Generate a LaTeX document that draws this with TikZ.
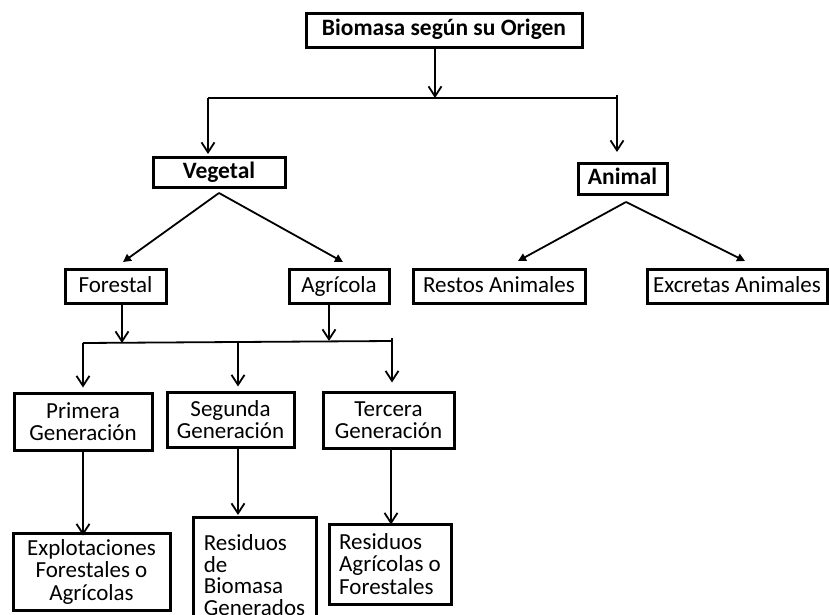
\documentclass[tikz,border=0pt]{standalone}
\usepackage{fontspec}
\setmainfont{Carlito}
\usetikzlibrary{arrows.meta}
\begin{document}
\begin{tikzpicture}[x=1pt,y=-1pt,
  box/.style={draw, line width=3pt, inner sep=0pt, align=center,
    font=\fontsize{23}{22.5}\selectfont},
  single/.style={box, text height=15.5pt, text depth=4.5pt},
  head/.style={single, font=\fontsize{23.5}{24}\selectfont\bfseries},
  leftbox/.style={box, align=left},
  link/.style={line width=1.8pt},
  down/.style={link, -{Straight Barb[length=10pt,width=13pt,line width=1.8pt]}},
  diag/.style={link, -{Triangle[length=8pt,width=8pt]}}]
\fill[white] (0,0) rectangle (829,615);
\useasboundingbox (0,0) rectangle (829,615);

% boxes
\node[head, minimum width=276pt, minimum height=34pt] (top) at (444,30.5) {Biomasa según su Origen};
\node[head, minimum width=132pt, minimum height=30pt] (veg) at (219,172.5) {Vegetal};
\node[head, minimum width=89pt, minimum height=31pt] (ani) at (622.5,179) {Animal};

\node[single, minimum width=101pt, minimum height=34pt] (for) at (115.5,286.5) {Forestal};
\node[single, minimum width=100pt, minimum height=34pt] (agr) at (339,286.5) {Agrícola};
\node[single, minimum width=172pt, minimum height=34pt] (res) at (499,286.5) {Restos Animales};
\node[single, minimum width=180pt, minimum height=34pt] (exc) at (737,286.5) {Excretas Animales};

\node[box, minimum width=138pt, minimum height=57pt] (pri) at (83,421.5) {Primera\\Generación};
\node[box, minimum width=127pt, minimum height=55pt] (seg) at (230.5,419.5) {Segunda\\Generación};
\node[box, minimum width=131pt, minimum height=56pt] (ter) at (388.5,420) {Tercera\\Generación};

\node[box, minimum width=157pt, minimum height=77pt] (exp) at (91.5,571.5) {Explotaciones\\Forestales o\\Agrícolas};
\node[leftbox, minimum width=123pt, minimum height=115pt,
      font=\fontsize{23}{21.5}\selectfont] (rbg) at (254.5,575) {Residuos\\de\\Biomasa\\Generados};
\node[leftbox, minimum width=122pt, minimum height=80pt] (rag) at (390,564) {Residuos\\Agrícolas o\\Forestales};

% junction points
\coordinate (j0) at (435,98);
\coordinate (jl) at (208,98);
\coordinate (jr) at (617,98);
\coordinate (b1) at (83,343);
\coordinate (b2) at (238,342);
\coordinate (b3) at (392,341);

% first level
\draw[down] (top.south -| j0) -- (j0);
\draw[link] (jl) -- (jr) -- ++(0,-3);
\draw[down] (jl) -- ([yshift=2pt]veg.north -| jl);
\draw[down] (jr) -- ([yshift=10pt]ani.north -| jr);

% vegetal and animal branches
\draw[diag] ([yshift=-4pt]veg.south) -- ([xshift=7.5pt,yshift=6pt]for.north);
\draw[diag] ([yshift=-4pt]veg.south) -- ([xshift=4pt,yshift=6pt]agr.north);
\draw[diag] ([xshift=3.5pt,yshift=-6pt]ani.south) -- ([xshift=19pt,yshift=7pt]res.north);
\draw[diag] ([xshift=3.5pt,yshift=-6pt]ani.south) -- ([xshift=8pt,yshift=7pt]exc.north);

% generations bus
\draw[down] ([xshift=6.5pt]for.south) -- ([xshift=6.5pt]for.south |- b1);
\draw[down] ([xshift=-10pt]agr.south) -- ([xshift=-10pt]agr.south |- b3);
\draw[link] (b1) -- (b3) -- ++(0,-3);
\draw[down] (b1) -- ([yshift=4pt]pri.north -| b1);
\draw[down] (b2) -- ([yshift=4pt]seg.north -| b2);
\draw[down] (b3) -- ([yshift=8pt]ter.north -| b3);

% last level
\draw[down] (pri.south -| b1) -- ([yshift=-4pt]exp.north -| b1);
\draw[down] (seg.south -| b2) -- ([yshift=1pt]rbg.north -| b2);
\draw[down] ([xshift=2.5pt]ter.south) -- ([xshift=1pt,yshift=-2pt]rag.north);
\end{tikzpicture}
\end{document}
